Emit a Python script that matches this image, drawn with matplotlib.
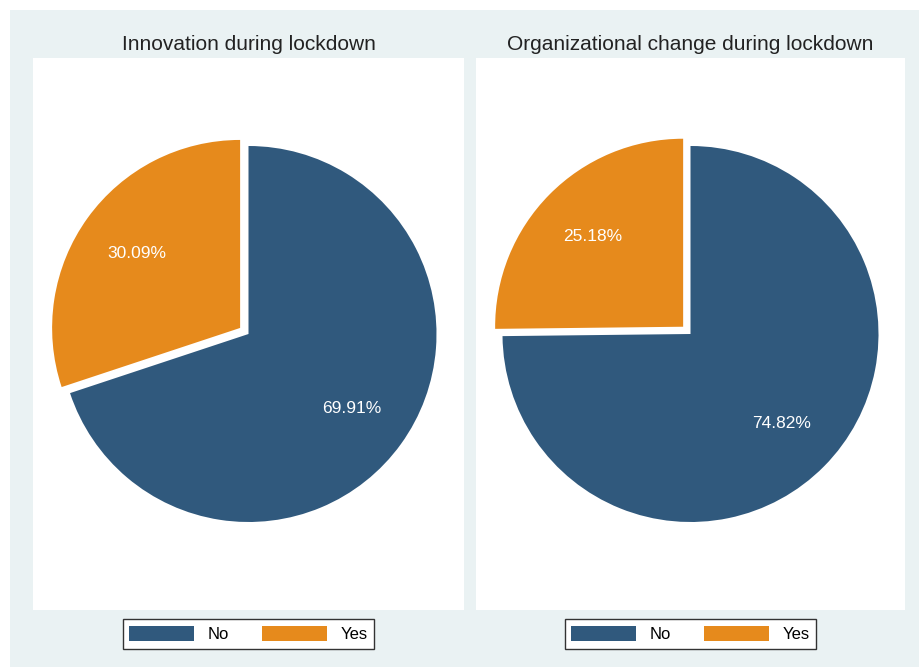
import matplotlib.pyplot as plt
from matplotlib.patches import Rectangle

plt.rcParams['font.family'] = ['Liberation Sans', 'DejaVu Sans']

titles = ['Innovation during lockdown', 'Organizational change during lockdown']
labels = ['No', 'Yes']
innovation = [69.91, 30.09]
org_change = [74.82, 25.18]
colors = ['#30597d', '#e68a1c']
bg = '#eaf2f3'

W, H = 920, 667
fig = plt.figure(figsize=(W / 100, H / 100), dpi=100, facecolor='white')
# light bluish background with thin white margin top/left
fig.patches.append(Rectangle((10 / W, 0), 1, 1 - 10 / H, transform=fig.transFigure,
                             facecolor=bg, edgecolor='none', zorder=-10))

panels = [(33, 464), (476, 905)]
top, bottom = 58, 610
R = 188  # pie radius in px

for (x0, x1), title, vals in zip(panels, titles, [innovation, org_change]):
    ax = fig.add_axes([x0 / W, (H - bottom) / H, (x1 - x0) / W, (bottom - top) / H])
    wedges, texts, autotexts = ax.pie(vals, colors=colors, startangle=90, counterclock=False,
                                      explode=[0, 0.055], autopct='%.2f%%', pctdistance=0.68,
                                      textprops=dict(color='white', fontsize=12.5),
                                      wedgeprops=dict(linewidth=0))
    ax.set_aspect('auto')
    hw = (x1 - x0) / 2 / R
    hh = (bottom - top) / 2 / R
    ax.set_xlim(-hw, hw)
    ax.set_ylim(-hh, hh)
    ax.set_frame_on(True)
    ax.set_facecolor('white')
    for s in ax.spines.values():
        s.set_visible(False)
    cx = (x0 + x1) / 2
    fig.text(cx / W, 1 - 44 / H, title, ha='center', va='center', fontsize=15, color='#222222')
    leg = ax.legend(wedges, labels, loc='center', bbox_to_anchor=(0.5, -0.0436),
                    ncol=2, frameon=True, fancybox=False, fontsize=12,
                    handlelength=3.9, handleheight=1.0, columnspacing=2.0,
                    handletextpad=0.8, borderpad=0.4, borderaxespad=0,
                    edgecolor='#333333', facecolor='white', framealpha=1)
    leg.get_frame().set_linewidth(1.0)

fig.savefig('out.png', dpi=100, facecolor=fig.get_facecolor())
